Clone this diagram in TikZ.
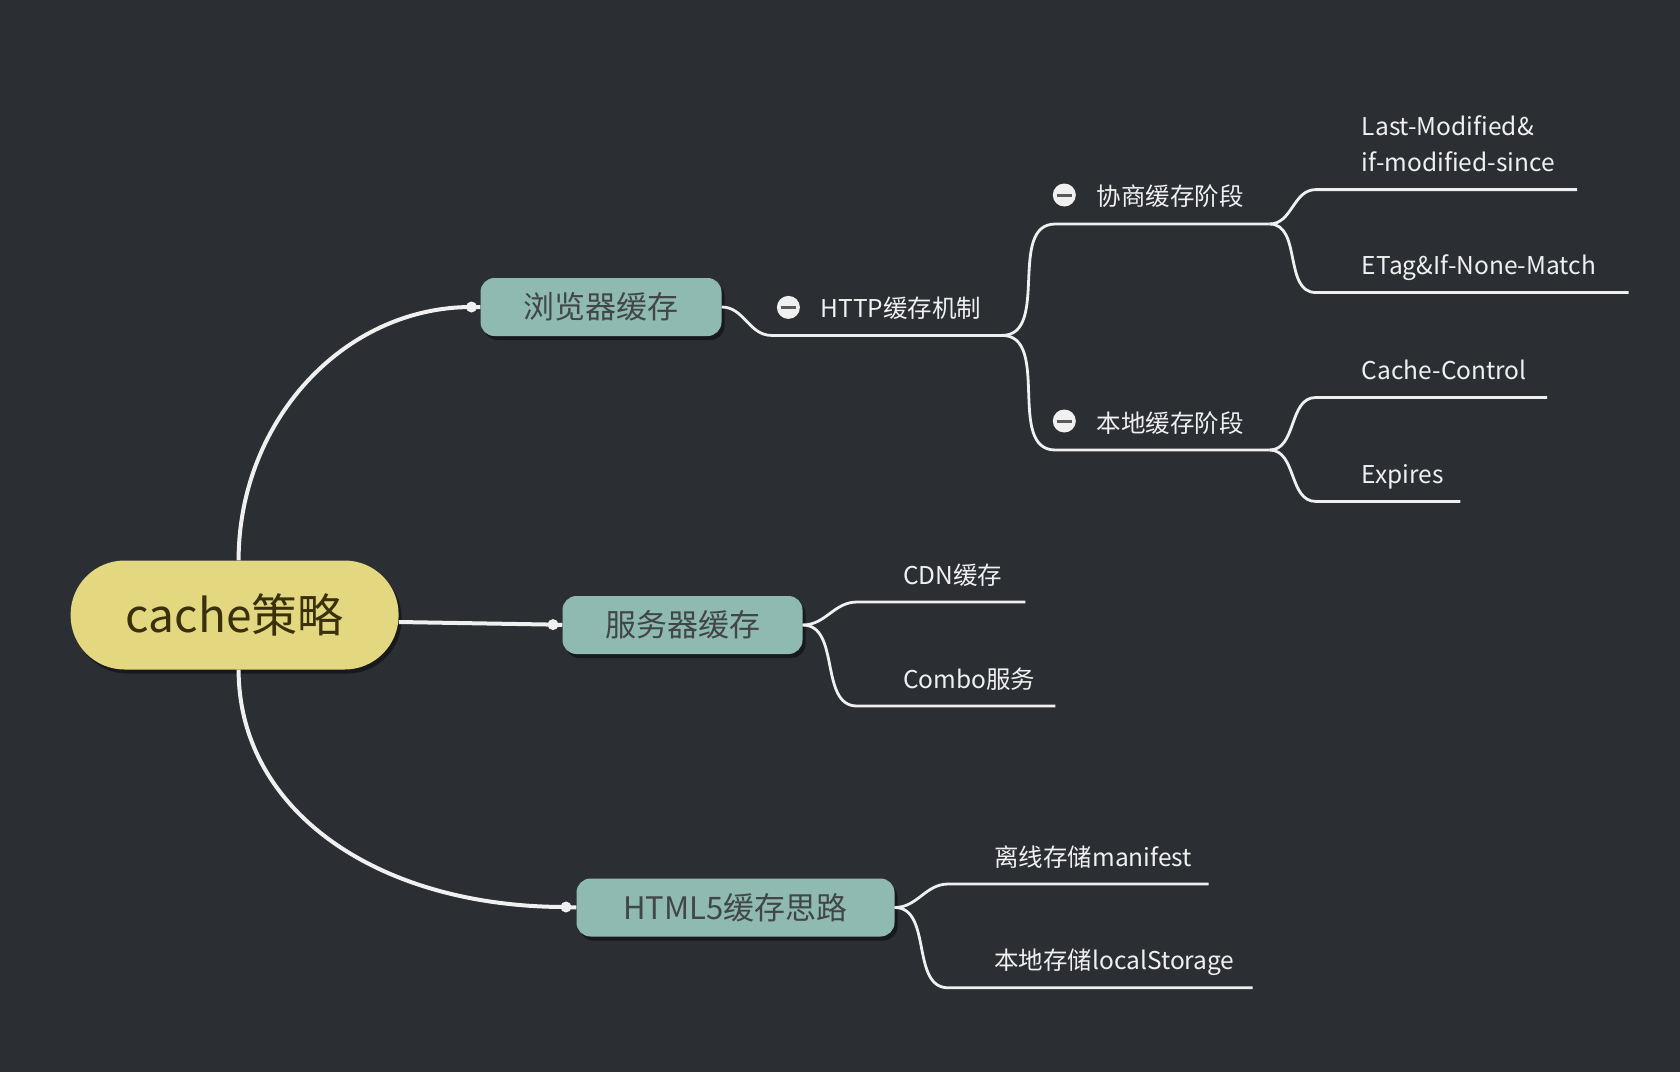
\documentclass[tikz,border=0pt]{standalone}
\usepackage{fontspec}
\setmainfont{Noto Sans CJK SC}
\usepackage{xcolor}
\usepackage{tikz}
\usetikzlibrary{positioning,shadows,calc}
\definecolor{boardBg}{RGB}{43,46,51}
\definecolor{rootFill}{RGB}{227,216,128}
\definecolor{rootText}{RGB}{58,48,12}
\definecolor{topicFill}{RGB}{143,186,177}
\definecolor{topicText}{RGB}{66,70,70}
\definecolor{linkWhite}{RGB}{240,240,240}
\definecolor{barGrey}{RGB}{90,90,90}
\tikzset {
	root/.style={rectangle, rounded corners=54pt, fill=rootFill, text=rootText, minimum width=328pt, minimum height=109pt,
					font=\fontsize{46}{50}\selectfont, drop shadow={shadow xshift=3pt, shadow yshift=-4pt, fill=black, opacity=.45}},
	topic/.style={rectangle, rounded corners=14pt, fill=topicFill, text=topicText, minimum height=58pt,
					font=\fontsize{31}{36}\selectfont, drop shadow={shadow xshift=3pt, shadow yshift=-4pt, fill=black, opacity=.45}},
	leaf/.style={anchor=base west, inner sep=0pt, text=linkWhite, font=\fontsize{24.5}{36.6}\selectfont},
	mainLink/.style={draw=linkWhite, line width=4pt},
	subLink/.style={draw=linkWhite, line width=2.8pt},
	knob/.style={circle, fill=linkWhite, inner sep=0pt, minimum size=11pt},
	fold/.style={circle, fill=linkWhite, inner sep=0pt, minimum size=23pt,
					path picture={\draw[barGrey, line width=3pt] ([xshift=4pt]path picture bounding box.west) -- ([xshift=-4pt]path picture bounding box.east);}}
}
\begin{document}
\begin{tikzpicture}[x=1pt, y=-1pt]
	\fill[boardBg] (0,0) rectangle (1680,1072);
	\useasboundingbox (0,0) rectangle (1680,1072);

	\node[root] (cache) at (234.6,615) {cache策略};
	\node[topic, minimum width=241pt] (browser) at (601,307) {浏览器缓存};
	\node[topic, minimum width=240pt] (server) at (682.5,625) {服务器缓存};
	\node[topic, minimum width=318pt] (html) at (735.5,907.5) {HTML5缓存思路};

	\node[knob] (browserKnob) at (471.5,307) {};
	\node[knob] (serverKnob) at (553,624.6) {};
	\node[knob] (htmlKnob) at (566,907) {};

	\draw[mainLink] ([xshift=4pt]cache.north) .. controls +(0,-139) and +(-128,0) .. (browserKnob.center) -- (browser.west);
	\draw[mainLink] (cache.east |- 0,622) -- (serverKnob.center) -- (server.west);
	\draw[mainLink] ([xshift=4pt]cache.south) .. controls +(0,140) and +(-190,0) .. (htmlKnob.center) -- (html.west);

	% line ends
	\coordinate (httpL) at (771.4,335.4);	\coordinate (httpR) at (1002,335.4);
	\coordinate (negoL) at (1055.3,224);	\coordinate (negoR) at (1269.6,224);
	\coordinate (localL) at (1055.3,450);	\coordinate (localR) at (1269.6,450);
	\coordinate (lmL) at (1315.7,189.6);	\coordinate (lmR) at (1577,189.6);
	\coordinate (etagL) at (1315.7,292.5);	\coordinate (etagR) at (1628.6,292.5);
	\coordinate (ccL) at (1315.7,397.5);	\coordinate (ccR) at (1547,397.5);
	\coordinate (expL) at (1315.7,501.4);	\coordinate (expR) at (1460.3,501.4);
	\coordinate (cdnL) at (857,602);		\coordinate (cdnR) at (1025.3,602);
	\coordinate (comboL) at (857,706);		\coordinate (comboR) at (1055.3,706);
	\coordinate (offL) at (948.2,884);		\coordinate (offR) at (1208.5,884);
	\coordinate (lsL) at (948.2,987.8);		\coordinate (lsR) at (1252.5,987.8);

	\draw[subLink] (browser.east) to[out=0, in=180] (httpL) -- (httpR);
	\draw[subLink] (httpR) to[out=0, in=180] (negoL) -- (negoR);
	\draw[subLink] (httpR) to[out=0, in=180] (localL) -- (localR);
	\draw[subLink] (negoR) to[out=0, in=180] (lmL) -- (lmR);
	\draw[subLink] (negoR) to[out=0, in=180] (etagL) -- (etagR);
	\draw[subLink] (localR) to[out=0, in=180] (ccL) -- (ccR);
	\draw[subLink] (localR) to[out=0, in=180] (expL) -- (expR);
	\draw[subLink] (server.east) to[out=0, in=180] (cdnL) -- (cdnR);
	\draw[subLink] (server.east) to[out=0, in=180] (comboL) -- (comboR);
	\draw[subLink] (html.east) to[out=0, in=180] (offL) -- (offR);
	\draw[subLink] (html.east) to[out=0, in=180] (lsL) -- (lsR);

	\node[fold] (httpFold) at ($(httpL)+(17,-28)$) {};
	\node[fold] (negoFold) at ($(negoL)+(9,-29)$) {};
	\node[fold] (localFold) at ($(localL)+(9,-29)$) {};

	\node[leaf] (http) at ($(httpL)+(49,-18)$) {HTTP缓存机制};
	\node[leaf] (nego) at ($(negoL)+(41,-19)$) {协商缓存阶段};
	\node[leaf] (local) at ($(localL)+(41,-18)$) {本地缓存阶段};
	\node[leaf, align=left] (lastMod) at ($(lmL)+(46,-18)$) {Last-Modified\&\\if-modified-since};
	\node[leaf] (etag) at ($(etagL)+(46,-18)$) {ETag\&If-None-Match};
	\node[leaf] (cacheCtrl) at ($(ccL)+(46,-18)$) {Cache-Control};
	\node[leaf] (expires) at ($(expL)+(46,-18)$) {Expires};
	\node[leaf] (cdn) at ($(cdnL)+(46,-18)$) {CDN缓存};
	\node[leaf] (combo) at ($(comboL)+(46,-18)$) {Combo服务};
	\node[leaf] (offline) at ($(offL)+(46,-18)$) {离线存储manifest};
	\node[leaf] (localStore) at ($(lsL)+(46,-18)$) {本地存储localStorage};
\end{tikzpicture}
\end{document}
